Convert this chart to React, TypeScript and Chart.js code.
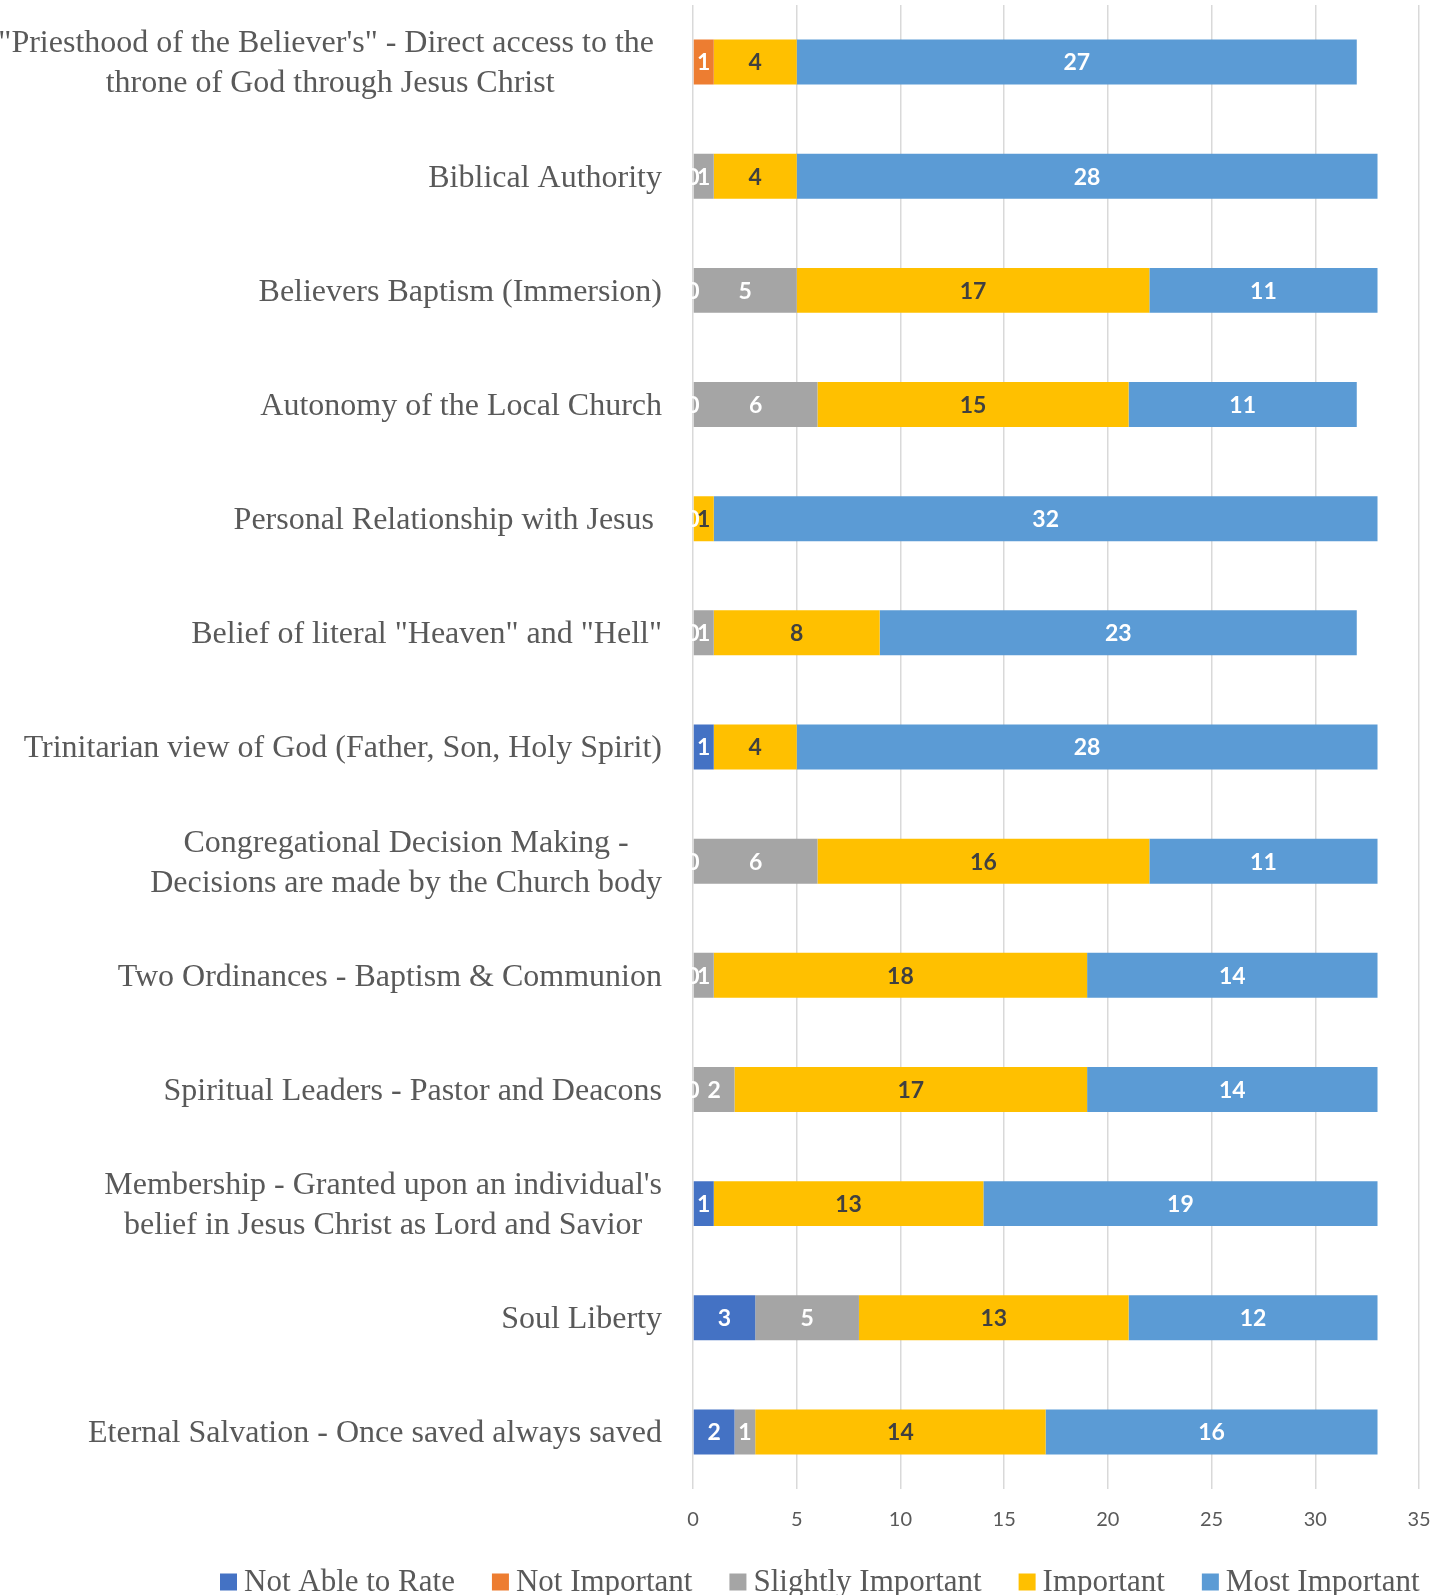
import React, { useEffect, useRef } from 'react';
import { Chart, registerables } from 'chart.js';

Chart.register(...registerables);

const categoryLines: string[][] = [
  ["\"Priesthood of the Believer's\" - Direct access to the ", "throne of God through Jesus Christ"],
  ["Biblical Authority"],
  ["Believers Baptism (Immersion)"],
  ["Autonomy of the Local Church"],
  ["Personal Relationship with Jesus "],
  ["Belief of literal \"Heaven\" and \"Hell\""],
  ["Trinitarian view of God (Father, Son, Holy Spirit)"],
  ["Congregational Decision Making -", "Decisions are made by the Church body"],
  ["Two Ordinances - Baptism & Communion"],
  ["Spiritual Leaders - Pastor and Deacons"],
  ["Membership - Granted upon an individual's", "belief in Jesus Christ as Lord and Savior"],
  ["Soul Liberty"],
  ["Eternal Salvation - Once saved always saved"],
];

const seriesNames: string[] = ['Not Able to Rate', 'Not Important', 'Slightly Important', 'Important', 'Most Important'];
const seriesColors: string[] = ['#4472C4', '#ED7D31', '#A5A5A5', '#FFC000', '#5B9BD5'];
const labelColors: string[] = ['#FFFFFF', '#FFFFFF', '#FFFFFF', '#404040', '#FFFFFF'];

const notAbleToRate: (number | null)[] = [null, null, null, null, null, null, 1, null, null, null, 1, 3, 2];
const notImportant: (number | null)[] = [1, 0, 0, 0, null, 0, null, 0, 0, 0, null, null, null];
const slightlyImportant: (number | null)[] = [null, 1, 5, 6, 0, 1, null, 6, 1, 2, null, 5, 1];
const important: (number | null)[] = [4, 4, 17, 15, 1, 8, 4, 16, 18, 17, 13, 13, 14];
const mostImportant: (number | null)[] = [27, 28, 11, 11, 32, 23, 28, 11, 14, 14, 19, 12, 16];

const xTicks: number[] = [0, 5, 10, 15, 20, 25, 30, 35];

const SERIF = '"Liberation Serif", "Times New Roman", serif';
const SANS = 'Lato, "Open Sans", sans-serif';
const TEXT_GRAY = '#595959';

const dataLabelPlugin = {
  id: 'dataLabels',
  afterDatasetsDraw(chart: any) {
    const ctx = chart.ctx;
    ctx.save();
    ctx.font = `bold 23px ${SANS}`;
    ctx.textAlign = 'center';
    ctx.textBaseline = 'middle';
    chart.data.datasets.forEach((ds: any, di: number) => {
      const meta = chart.getDatasetMeta(di);
      ds.data.forEach((v: number | null, i: number) => {
        if (v === null || v === undefined) return;
        const el = meta.data[i];
        if (!el) return;
        const p = el.getProps(['x', 'y', 'base'], true);
        const cx = (p.x + p.base) / 2;
        ctx.fillStyle = labelColors[di];
        ctx.fillText(String(v), cx, p.y + 1);
      });
    });
    ctx.restore();
  },
};

const yLabelPlugin = {
  id: 'yLabels',
  afterDraw(chart: any) {
    const ctx = chart.ctx;
    const yScale = chart.scales.y;
    ctx.save();
    ctx.font = `32px ${SERIF}`;
    ctx.fillStyle = TEXT_GRAY;
    ctx.textAlign = 'center';
    ctx.textBaseline = 'middle';
    const right = chart.chartArea.left - 31;
    const lh = 40;
    categoryLines.forEach((lines, i) => {
      const cy = yScale.getPixelForValue(i) + 2;
      const w = Math.max(...lines.map((l) => ctx.measureText(l).width));
      const cx = right - w / 2;
      lines.forEach((l, j) => {
        ctx.fillText(l, cx, cy + (j - (lines.length - 1) / 2) * lh);
      });
    });
    ctx.restore();
  },
};

const legendPlugin = {
  id: 'customLegend',
  afterDraw(chart: any) {
    const ctx = chart.ctx;
    ctx.save();
    ctx.font = `31px ${SERIF}`;
    ctx.textBaseline = 'middle';
    ctx.textAlign = 'left';
    let x = 220;
    const cy = 1583;
    const box = 17;
    chart.data.datasets.forEach((ds: any) => {
      ctx.fillStyle = ds.backgroundColor;
      ctx.fillRect(x, cy - box / 2 - 1, box, box);
      x += box + 7;
      ctx.fillStyle = TEXT_GRAY;
      ctx.fillText(ds.label, x, cy);
      x += ctx.measureText(ds.label).width + 37;
    });
    ctx.restore();
  },
};

export default function App() {
  const canvasRef = useRef<HTMLCanvasElement | null>(null);

  useEffect(() => {
    if (!canvasRef.current) return;
    const seriesData = [notAbleToRate, notImportant, slightlyImportant, important, mostImportant];
    const chart = new Chart(canvasRef.current, {
      type: 'bar',
      data: {
        labels: categoryLines.map((l) => l.join(' ')),
        datasets: seriesData.map((d, i) => ({
          label: seriesNames[i],
          data: d as any,
          backgroundColor: seriesColors[i],
          borderWidth: 0,
          barPercentage: 0.394,
          categoryPercentage: 1,
        })),
      },
      options: {
        indexAxis: 'y',
        animation: false,
        responsive: true,
        maintainAspectRatio: false,
        layout: { padding: { left: 0, right: 0, top: 5, bottom: 0 } },
        plugins: {
          legend: { display: false },
          tooltip: { enabled: false },
        },
        scales: {
          x: {
            stacked: true,
            min: 0,
            max: 35,
            afterBuildTicks: (scale: any) => {
              scale.ticks = xTicks.map((v) => ({ value: v }));
            },
            afterFit: (scale: any) => {
              scale.height = 106;
              scale.paddingRight = 15;
              scale.paddingLeft = 0;
            },
            grid: { color: '#D9D9D9', lineWidth: 1.5, drawTicks: false },
            border: { display: false },
            ticks: {
              color: TEXT_GRAY,
              font: { family: SANS, size: 20 },
              padding: 19,
            },
          },
          y: {
            stacked: true,
            afterFit: (scale: any) => {
              scale.width = 693;
            },
            grid: { display: false },
            border: { display: false },
            ticks: { display: false },
          },
        },
      },
      plugins: [dataLabelPlugin, yLabelPlugin, legendPlugin],
    });
    return () => chart.destroy();
  }, []);

  return (
    <div style={{ position: 'fixed', left: 0, top: 0, width: 1434, height: 1595, background: '#fff' }}>
      <canvas ref={canvasRef} />
    </div>
  );
}
